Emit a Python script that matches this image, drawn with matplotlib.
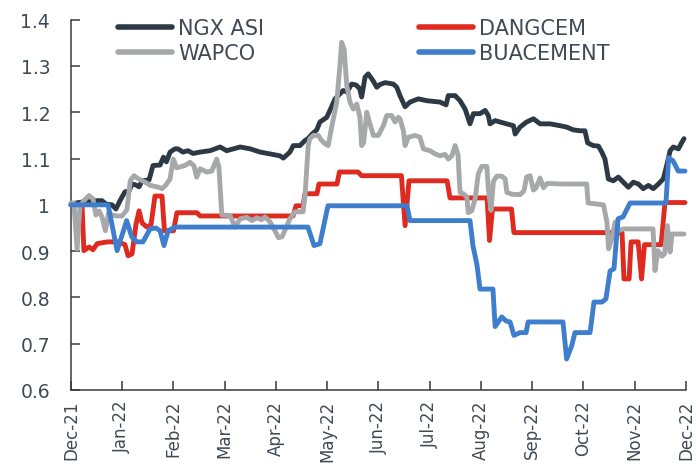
import matplotlib
matplotlib.use("Agg")
import matplotlib.pyplot as plt

plt.rcParams['font.family'] = ['DejaVu Sans']

# Month labels, one every 21 trading sessions
months = ["Dec-21", "Jan-22", "Feb-22", "Mar-22", "Apr-22", "May-22", "Jun-22",
          "Jul-22", "Aug-22", "Sep-22", "Oct-22", "Nov-22", "Dec-22"]
sessions_per_month = 21

# Rebased performance (start = 1), session index vs value
ngx_t = [0, 2.0, 4.5, 7.8, 12.7, 14.3, 16.8, 18.4, 20.1, 22.1, 23.8, 25.0, 26.6, 27.9, 29.1,
         32.0, 33.6, 36.5, 37.9, 39.1, 40.6, 42.6, 43.8, 45.9, 47.9, 50.0, 52.9, 57.0, 61.1,
         63.8, 69.3, 73.4, 77.5, 81.6, 85.6, 87.0, 89.7, 91.1, 93.8, 95.9, 97.1, 98.8, 100.7,
         102.0, 104.8, 106.1, 108.2, 111.5, 113.1, 115.0, 116.8, 118.3, 119.1, 120.5, 121.8,
         123.8, 125.3, 126.6, 128.7, 132.1, 133.5, 134.8, 136.9, 138.9, 142.3, 145.8, 151.2,
         153.7, 154.6, 157.4, 159.4, 161.5, 163.5, 164.9, 167.6, 169.7, 171.0, 171.7, 173.8,
         175.8, 178.5, 181.3, 182.0, 184.0, 186.7, 189.5, 192.2, 196.3, 200.4, 203.1, 205.8,
         208.6, 210.6, 211.7, 214.0, 216.1, 217.5, 218.8, 220.2, 222.2, 224.3, 226.3, 228.4,
         230.4, 232.5, 234.5, 236.6, 238.6, 240.7, 242.7, 244.1, 245.5, 246.8, 248.9, 250.3,
         251.2]
ngx_v = [1.000, 1.004, 1.006, 1.009, 1.009, 1.002, 1.000, 0.991, 1.009, 1.028, 1.030, 1.045,
         1.043, 1.039, 1.052, 1.054, 1.085, 1.086, 1.103, 1.093, 1.114, 1.121, 1.121, 1.114,
         1.117, 1.111, 1.114, 1.117, 1.125, 1.117, 1.125, 1.121, 1.114, 1.110, 1.106, 1.101,
         1.114, 1.128, 1.128, 1.139, 1.143, 1.153, 1.162, 1.179, 1.189, 1.204, 1.229, 1.247,
         1.244, 1.261, 1.259, 1.251, 1.233, 1.276, 1.283, 1.268, 1.254, 1.260, 1.264, 1.261,
         1.254, 1.236, 1.212, 1.222, 1.229, 1.225, 1.222, 1.216, 1.236, 1.236, 1.225, 1.207,
         1.175, 1.197, 1.197, 1.204, 1.193, 1.175, 1.182, 1.179, 1.175, 1.171, 1.153, 1.168,
         1.179, 1.186, 1.175, 1.175, 1.171, 1.168, 1.162, 1.160, 1.160, 1.134, 1.128, 1.127,
         1.114, 1.099, 1.056, 1.052, 1.060, 1.049, 1.038, 1.049, 1.045, 1.035, 1.042, 1.035,
         1.045, 1.056, 1.085, 1.117, 1.125, 1.121, 1.135, 1.143]

dangcem_t = [0, 4.5, 5.3, 7.4, 9.0, 10.7, 14.8, 19.3, 22.1, 23.4, 25.0, 26.6, 27.9, 29.1, 31.1,
             32.8, 34.4, 37.3, 38.3, 42.0, 43.4, 51.6, 52.9, 91.0, 92.2, 95.1, 95.9, 100.8,
             101.6, 109.0, 110.0, 117.6, 119.1, 135.4, 136.9, 138.5, 154.1, 155.3, 170.5,
             171.5, 172.7, 180.5, 181.5, 225.8, 226.6, 228.7, 229.5, 232.4, 233.8, 235.0,
             241.8, 243.4, 251.6]
dangcem_v = [1.000, 1.000, 0.901, 0.909, 0.903, 0.916, 0.920, 0.920, 0.914, 0.890, 0.894,
             0.957, 0.987, 0.961, 0.952, 0.957, 1.019, 1.019, 0.944, 0.944, 0.983, 0.983,
             0.976, 0.976, 0.998, 0.998, 1.024, 1.024, 1.045, 1.045, 1.071, 1.071, 1.063,
             1.063, 0.955, 1.052, 1.052, 1.015, 1.015, 0.923, 0.991, 0.991, 0.940, 0.940,
             0.840, 0.840, 0.920, 0.920, 0.840, 0.914, 0.914, 1.005, 1.005]

wapco_t = [0, 1.2, 2.5, 3.7, 5.3, 7.4, 9.0, 10.2, 11.5, 12.7, 14.1, 15.4, 16.8, 18.9, 20.9,
           22.9, 24.3, 25.8, 27.7, 30.4, 32.5, 35.9, 37.3, 38.6, 40.6, 41.9, 43.3, 44.7, 46.7,
           48.8, 50.4, 51.5, 52.9, 55.6, 57.7, 59.7, 60.6, 61.8, 65.2, 67.2, 69.3, 72.0, 74.1,
           76.1, 78.1, 79.5, 81.6, 83.6, 85.0, 86.5, 88.5, 89.7, 91.8, 95.1, 95.9, 96.6, 97.2,
           97.9, 99.3, 101.3, 102.7, 104.1, 105.4, 106.8, 108.9, 110.2, 110.9, 111.9, 113.0,
           114.3, 115.7, 117.1, 118.4, 119.1, 119.9, 121.2, 122.5, 123.9, 125.9, 128.0, 129.4,
           131.4, 132.8, 134.1, 134.8, 136.2, 136.9, 138.2, 141.0, 143.0, 144.4, 147.1, 149.2,
           151.2, 153.3, 154.6, 156.1, 157.4, 158.6, 159.4, 160.8, 162.2, 162.8, 164.2, 165.6,
           166.9, 168.3, 170.4, 171.0, 172.1, 173.1, 174.5, 176.5, 177.9, 178.6, 180.6, 184.0,
           185.6, 186.7, 188.1, 189.5, 190.6, 192.2, 193.6, 195.0, 197.0, 201.1, 211.3, 211.9,
           218.2, 219.6, 220.3, 221.6, 223.0, 224.3, 226.3, 238.5, 239.3, 240.5, 242.1, 243.2,
           244.4, 245.5, 246.3, 251.2]
wapco_v = [1.004, 1.004, 0.905, 0.998, 1.009, 1.020, 1.013, 0.978, 0.987, 0.974, 0.944, 0.983,
           0.978, 0.976, 0.976, 0.989, 1.052, 1.063, 1.056, 1.049, 1.042, 1.038, 1.035, 1.041,
           1.056, 1.099, 1.080, 1.082, 1.085, 1.092, 1.084, 1.060, 1.078, 1.071, 1.073, 1.099,
           1.082, 0.978, 0.977, 0.952, 0.970, 0.973, 0.966, 0.972, 0.968, 0.974, 0.963, 0.944,
           0.929, 0.931, 0.955, 0.970, 0.985, 0.985, 1.020, 1.078, 1.128, 1.143, 1.150, 1.150,
           1.139, 1.132, 1.128, 1.168, 1.222, 1.301, 1.351, 1.337, 1.258, 1.222, 1.207, 1.218,
           1.189, 1.128, 1.134, 1.200, 1.175, 1.150, 1.150, 1.171, 1.193, 1.193, 1.179, 1.189,
           1.186, 1.160, 1.128, 1.146, 1.150, 1.146, 1.121, 1.117, 1.110, 1.106, 1.109, 1.099,
           1.106, 1.128, 1.108, 1.027, 1.024, 1.017, 0.983, 0.987, 1.013, 1.067, 1.083, 1.083,
           1.035, 0.988, 1.051, 1.062, 1.062, 1.056, 1.027, 1.023, 1.022, 1.030, 1.060, 1.063,
           1.032, 1.037, 1.058, 1.037, 1.046, 1.046, 1.045, 1.045, 1.004, 1.000, 0.963, 0.905,
           0.927, 0.963, 0.944, 0.948, 0.948, 0.858, 0.901, 0.889, 0.894, 0.955, 0.898, 0.937,
           0.937]

buacement_t = [0, 15.2, 18.9, 22.8, 24.9, 27.0, 29.5, 32.4, 34.8, 36.5, 38.1, 39.8, 42.6, 97.1,
               99.6, 102.0, 105.3, 137.7, 138.9, 163.5, 164.7, 166.4, 167.6, 172.9, 173.8,
               176.5, 178.3, 179.9, 181.5, 184.0, 186.5, 187.3, 201.6, 203.1, 205.2, 206.5,
               212.7, 214.3, 217.6, 219.2, 220.9, 222.5, 224.2, 226.2, 229.1, 243.8, 244.9,
               246.7, 248.8, 251.6]
buacement_v = [1.000, 1.000, 0.901, 0.966, 0.931, 0.920, 0.920, 0.948, 0.950, 0.944, 0.912,
               0.944, 0.952, 0.952, 0.912, 0.916, 0.998, 0.998, 0.966, 0.966, 0.912, 0.869,
               0.818, 0.818, 0.737, 0.758, 0.749, 0.747, 0.718, 0.724, 0.724, 0.747, 0.747,
               0.667, 0.696, 0.724, 0.724, 0.790, 0.790, 0.797, 0.857, 0.862, 0.970, 0.974,
               1.004, 1.004, 1.102, 1.095, 1.073, 1.073]

y_ticks = [0.6, 0.7, 0.8, 0.9, 1.0, 1.1, 1.2, 1.3, 1.4]
y_tick_labels = ["0.6", "0.7", "0.8", "0.9", "1", "1.1", "1.2", "1.3", "1.4"]

COL_NGX = "#2d3a46"
COL_DANG = "#de2a1f"
COL_WAPCO = "#a7a8aa"
COL_BUA = "#3f7ecd"
TEXT = "#3f4a55"
AXIS = "#3a3a3a"

fig = plt.figure(figsize=(6.96, 4.77), dpi=100)
ax = fig.add_axes([0.1020, 0.1803, 0.8836, 0.7763])

lw = 3.5
kw = dict(lw=lw, solid_joinstyle="round", solid_capstyle="round", clip_on=False)
l_ngx, = ax.plot(ngx_t, ngx_v, color=COL_NGX, label="NGX ASI", zorder=2, **kw)
l_dang, = ax.plot(dangcem_t, dangcem_v, color=COL_DANG, label="DANGCEM", zorder=3, **kw)
l_wap, = ax.plot(wapco_t, wapco_v, color=COL_WAPCO, label="WAPCO", zorder=4, **kw)
l_bua, = ax.plot(buacement_t, buacement_v, color=COL_BUA, label="BUACEMENT", zorder=5, **kw)

ax.set_xlim(0, sessions_per_month * (len(months) - 1))
ax.set_ylim(0.6, 1.4)
ax.set_xticks([i * sessions_per_month for i in range(len(months))])
ax.set_xticklabels(months, rotation=90, va="top", ha="center")
ax.set_yticks(y_ticks)
ax.set_yticklabels(y_tick_labels)

for s in ["top", "right"]:
    ax.spines[s].set_visible(False)
for s in ["left", "bottom"]:
    ax.spines[s].set_color(AXIS)
    ax.spines[s].set_linewidth(1.1)

ax.tick_params(axis="both", direction="in", length=6.5, width=1.1, color=AXIS,
               labelcolor=TEXT)
ax.tick_params(axis="y", pad=15, labelsize=13.5)
ax.tick_params(axis="x", pad=7, labelsize=12)

leg_kw = dict(frameon=False, fontsize=15, handlelength=2.6, handletextpad=0.3,
              labelspacing=0.25, borderpad=0, borderaxespad=0, loc="upper left",
              bbox_transform=fig.transFigure)
leg1 = ax.legend([l_ngx, l_wap], ["NGX ASI", "WAPCO"],
                 bbox_to_anchor=(118 / 696, 1 - 19 / 477), **leg_kw)
for t in leg1.get_texts():
    t.set_color(TEXT)
for h in leg1.legend_handles:
    h.set_linewidth(4)
ax.add_artist(leg1)
leg2 = ax.legend([l_dang, l_bua], ["DANGCEM", "BUACEMENT"],
                 bbox_to_anchor=(419 / 696, 1 - 19 / 477), **leg_kw)
for t in leg2.get_texts():
    t.set_color(TEXT)
for h in leg2.legend_handles:
    h.set_linewidth(4)

fig.savefig("out.png", dpi=100)
